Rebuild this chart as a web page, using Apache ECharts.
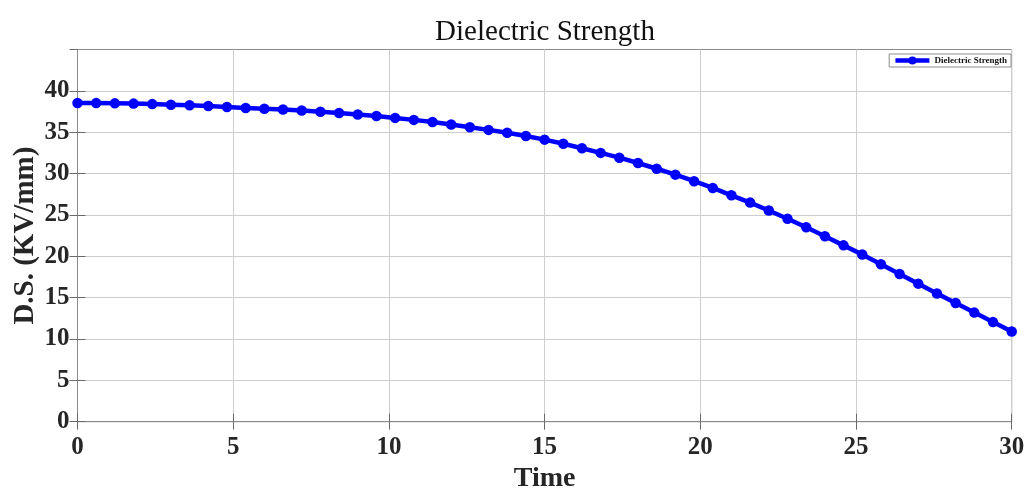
<!DOCTYPE html>
<html>
<head>
<meta charset="utf-8">
<script src="https://cdn.jsdelivr.net/npm/echarts@6/dist/echarts.min.js"></script>
<style>
  html, body { margin: 0; padding: 0; background: #ffffff; }
  #chart { width: 1025px; height: 492px; }
</style>
</head>
<body>
<div id="chart"></div>
<script>
// Sample times
const times = [
  0, 0.6, 1.2, 1.8, 2.4, 3.0, 3.6, 4.2, 4.8, 5.4,
  6.0, 6.6, 7.2, 7.8, 8.4, 9.0, 9.6, 10.2, 10.8, 11.4,
  12.0, 12.6, 13.2, 13.8, 14.4, 15.0, 15.6, 16.2, 16.8, 17.4,
  18.0, 18.6, 19.2, 19.8, 20.4, 21.0, 21.6, 22.2, 22.8, 23.4,
  24.0, 24.6, 25.2, 25.8, 26.4, 27.0, 27.6, 28.2, 28.8, 29.4, 30.0
];
// Dielectric strength (KV/mm) at each sample time
const strength = [
  38.53, 38.52, 38.49, 38.46, 38.40, 38.33, 38.25, 38.16, 38.05, 37.93,
  37.83, 37.74, 37.63, 37.48, 37.32, 37.15, 36.95, 36.73, 36.49, 36.23,
  35.93, 35.61, 35.28, 34.93, 34.54, 34.10, 33.60, 33.06, 32.50, 31.92,
  31.28, 30.58, 29.87, 29.08, 28.26, 27.37, 26.49, 25.54, 24.54, 23.50,
  22.43, 21.32, 20.22, 19.03, 17.86, 16.69, 15.50, 14.35, 13.19, 12.04, 10.90
];
const xTicks = [0, 5, 10, 15, 20, 25, 30];
const yTicks = [0, 5, 10, 15, 20, 25, 30, 35, 40];

const seriesName = 'Dielectric Strength';
const serif = '"Liberation Serif", "Times New Roman", serif';
const blue = '#0000ff';
const gridGray = '#cdcdcd';
const boxGray = '#8a8a8a';
const tickGray = '#6a6a6a';
const textDark = '#262626';

const points = times.map((t, i) => [t, strength[i]]);

const chart = echarts.init(document.getElementById('chart'), null, { renderer: 'canvas' });

// tick-only mirror axes on the top and right edges of the box
const mirrorTicks = {
  axisLine: { show: false },
  axisLabel: { show: false },
  splitLine: { show: false },
  axisTick: { show: true, inside: true, length: 8, lineStyle: { color: tickGray, width: 1 } }
};

chart.setOption({
  backgroundColor: '#ffffff',
  animation: false,
  title: {
    text: 'Dielectric Strength',
    left: 545,
    textAlign: 'center',
    top: 18,
    padding: 0,
    textStyle: { fontFamily: serif, fontWeight: 'normal', fontSize: 29, color: '#111111' }
  },
  legend: {
    data: [seriesName],
    right: 14,
    top: 54,
    padding: [2, 4, 2, 4],
    itemWidth: 34,
    itemHeight: 10,
    itemGap: 4,
    backgroundColor: '#ffffff',
    borderColor: '#8c8c8c',
    borderWidth: 1,
    borderRadius: 0,
    lineStyle: { width: 4.5 },
    textStyle: { fontFamily: serif, fontWeight: 'bold', fontSize: 9, color: '#111111' }
  },
  grid: {
    left: 77.5,
    right: 13.3,
    top: 49.5,
    bottom: 70.3,
    show: true,
    borderColor: boxGray,
    borderWidth: 1,
    backgroundColor: 'transparent',
    containLabel: false,
    outerBoundsMode: 'none'
  },
  xAxis: [
    {
      type: 'value',
      min: xTicks[0],
      max: xTicks[xTicks.length - 1],
      interval: 5,
      name: 'Time',
      nameLocation: 'middle',
      nameGap: 43,
      nameMoveOverlap: false,
      nameTextStyle: { fontFamily: serif, fontWeight: 'bold', fontSize: 28, color: textDark },
      axisLine: { show: true, lineStyle: { color: boxGray, width: 1 } },
      axisTick: { show: true, inside: true, length: 8, lineStyle: { color: tickGray, width: 1 } },
      axisLabel: { fontFamily: serif, fontWeight: 'bold', fontSize: 25, color: textDark, margin: 13 },
      splitLine: { show: true, lineStyle: { color: gridGray, width: 1 } }
    },
    Object.assign({
      type: 'value',
      position: 'top',
      min: xTicks[0],
      max: xTicks[xTicks.length - 1],
      interval: 5
    }, mirrorTicks)
  ],
  yAxis: [
    {
      type: 'value',
      min: 0,
      max: 45,
      interval: 5,
      name: 'D.S. (KV/mm)',
      nameLocation: 'middle',
      nameGap: 37,
      nameMoveOverlap: false,
      nameTextStyle: { fontFamily: serif, fontWeight: 'bold', fontSize: 29, color: textDark },
      axisLine: { show: true, lineStyle: { color: boxGray, width: 1 } },
      axisTick: {
        show: true, inside: true, length: 8, customValues: yTicks,
        lineStyle: { color: tickGray, width: 1 }
      },
      axisLabel: {
        fontFamily: serif, fontWeight: 'bold', fontSize: 25, color: textDark, margin: 8,
        customValues: yTicks
      },
      splitLine: { show: true, lineStyle: { color: gridGray, width: 1 } }
    },
    Object.assign({
      type: 'value',
      position: 'right',
      min: 0,
      max: 45,
      interval: 5
    }, mirrorTicks)
  ],
  series: [
    {
      name: seriesName,
      type: 'line',
      xAxisIndex: 0,
      yAxisIndex: 0,
      data: points,
      symbol: 'circle',
      symbolSize: 10.5,
      showSymbol: true,
      lineStyle: { color: blue, width: 4.5 },
      itemStyle: { color: blue, borderColor: blue, borderWidth: 0 },
      z: 5
    }
  ]
});
</script>
</body>
</html>
